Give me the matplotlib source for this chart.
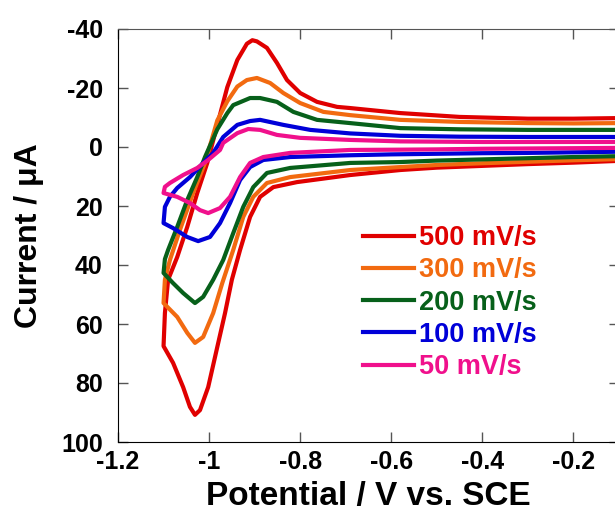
import matplotlib
matplotlib.use("Agg")
import matplotlib.pyplot as plt
import numpy as np

plt.rcParams["font.family"] = ["Liberation Sans", "DejaVu Sans"]
plt.rcParams["font.weight"] = "bold"
plt.rcParams["axes.unicode_minus"] = False

# cathodic (forward) branch then anodic (reverse) branch, potentials in V vs SCE, current in uA
labels = ["500 mV/s", "300 mV/s", "200 mV/s", "100 mV/s", "50 mV/s"]
colors = ["#e00000", "#f26a10", "#07601a", "#0000d8", "#f0108c"]

E_500 = [-0.10, -0.20, -0.30, -0.40, -0.50, -0.58, -0.69, -0.807, -0.859, -0.888, -0.91, -0.932,
         -0.95, -0.965, -0.982, -1.002, -1.02, -1.031, -1.042, -1.057, -1.079, -1.10,
         -1.097, -1.09, -1.07, -1.048, -1.026, -1.004, -0.982, -0.96, -0.938, -0.917, -0.905,
         -0.895, -0.873, -0.851, -0.829, -0.80, -0.763, -0.719, -0.69, -0.58, -0.45, -0.30,
         -0.20, -0.10]
I_500 = [4.7, 5.3, 5.8, 6.4, 7.0, 7.8, 9.5, 11.9, 13.6, 16.9, 23.7, 34.9,
         45, 56.3, 67.8, 81.4, 89.2, 90.8, 88.1, 81.4, 73.2, 67.5,
         56.3, 45, 37.3, 27.1, 15.6, 5.4, -7.5, -20.3, -29.5, -35.0, -36.2,
         -35.8, -33.6, -28.5, -22.7, -18.3, -15.3, -13.6, -13.2, -11.5, -10.2, -9.6,
         -9.6, -9.8]

E_300 = [-0.10, -0.20, -0.30, -0.40, -0.50, -0.58, -0.69, -0.822, -0.873, -0.903, -0.925, -0.947,
         -0.971, -0.991, -1.013, -1.031, -1.048, -1.07, -1.10,
         -1.097, -1.086, -1.064, -1.035, -1.009, -0.982, -0.96, -0.938, -0.917, -0.895, -0.866,
         -0.837, -0.80, -0.749, -0.69, -0.58, -0.45, -0.30, -0.20, -0.10]
I_300 = [4.1, 4.5, 5.0, 5.5, 6.1, 6.8, 7.8, 10.2, 12.2, 16.9, 23.7, 34.9,
         46.1, 56.3, 64.4, 66.4, 63, 57.6, 52.9,
         45, 38.3, 28.1, 15.6, 5.4, -9, -15.5, -20.5, -22.7, -23.4, -21.7,
         -18.3, -14.9, -11.9, -10.8, -9.2, -8.5, -8.1, -8.0, -8.1]

E_200 = [-0.10, -0.20, -0.30, -0.40, -0.50, -0.58, -0.69, -0.822, -0.873, -0.903, -0.925, -0.947,
         -0.969, -0.991, -1.013, -1.031, -1.057, -1.08, -1.10,
         -1.097, -1.09, -1.07, -1.048, -1.026, -1.009, -0.982, -0.96, -0.947, -0.91, -0.888,
         -0.851, -0.815, -0.763, -0.69, -0.58, -0.45, -0.30, -0.20, -0.10]
I_200 = [3.1, 3.4, 3.8, 4.2, 4.6, 5.1, 5.4, 7.1, 8.8, 13.6, 20.3, 29.2,
         38.3, 45, 50.8, 52.9, 49.5, 46, 42.7,
         38, 34.9, 27.1, 18, 10.2, 3.4, -6, -11.5, -14.2, -16.6, -16.6,
         -15.3, -11.9, -9.2, -8.1, -6.4, -6.0, -5.8, -5.8, -5.8]

E_100 = [-0.10, -0.20, -0.30, -0.40, -0.50, -0.60, -0.69, -0.822, -0.881, -0.91, -0.932, -0.954,
         -0.976, -0.998, -1.024, -1.048, -1.079, -1.10,
         -1.097, -1.086, -1.07, -1.042, -1.013, -0.991, -0.969, -0.938, -0.91, -0.888, -0.837,
         -0.778, -0.69, -0.58, -0.45, -0.30, -0.20, -0.10]
I_100 = [1.6, 1.8, 2.0, 2.1, 2.3, 2.5, 2.8, 3.4, 4.4, 6.8, 11.2, 19,
         25.8, 30.5, 31.9, 30.5, 27.5, 25.8,
         20.3, 16.9, 13.9, 10.2, 5.4, 2.0, -3.4, -7.5, -8.8, -9.2, -7.5,
         -5.8, -4.6, -3.8, -3.5, -3.4, -3.4, -3.4]

E_50 = [-0.10, -0.20, -0.30, -0.40, -0.50, -0.58, -0.69, -0.822, -0.881, -0.91, -0.932, -0.954,
        -0.976, -1.002, -1.02, -1.042, -1.07, -1.10,
        -1.097, -1.086, -1.057, -1.026, -1.002, -0.976, -0.969, -0.938, -0.914, -0.888, -0.851,
        -0.80, -0.69, -0.58, -0.40, -0.20, -0.10]
I_50 = [0.3, 0.4, 0.5, 0.6, 0.8, 0.9, 1.0, 2.0, 3.4, 5.4, 10.2, 16.9,
        20.7, 22.4, 21.4, 19, 16.9, 15.6,
        13.5, 12.2, 9.5, 7.1, 4.4, 1.0, -1.4, -4.7, -6.1, -5.8, -4.1,
        -3.1, -2.4, -1.9, -1.7, -1.7, -1.7]

potentials = [E_500, E_300, E_200, E_100, E_50]
currents = [I_500, I_300, I_200, I_100, I_50]

fig = plt.figure(figsize=(6.15, 5.13), dpi=100)
ax = fig.add_axes([118 / 615, 71 / 513, 501 / 615, 413 / 513])

for E, I, c, lab in zip(potentials, currents, colors, labels):
    ax.plot(E, I, color=c, lw=3, label=lab, solid_joinstyle="round")

ax.set_xlim(-1.2, -0.1)
ax.set_ylim(100, -40)
ax.set_xticks([-1.2, -1.0, -0.8, -0.6, -0.4, -0.2])
ax.set_xticklabels(["-1.2", "-1", "-0.8", "-0.6", "-0.4", "-0.2"])
ax.set_yticks([-40, -20, 0, 20, 40, 60, 80, 100])
ax.set_yticklabels(["-40", "-20", "0", "20", "40", "60", "80", "100"])
ax.tick_params(direction="in", length=7, width=1, color="#555555",
               top=True, right=True, labelsize=18)
ax.tick_params(axis="x", pad=6)
ax.tick_params(axis="y", pad=11)
for s in ["top", "right"]:
    ax.spines[s].set_color("#555555")
for s in ["left", "bottom"]:
    ax.spines[s].set_color("black")

ax.set_xlabel("Potential / V vs. SCE", fontsize=24, fontweight="bold", labelpad=5)
ax.set_ylabel("Current / μA", fontsize=23, fontweight="bold", labelpad=12)

leg = ax.legend(loc="upper left", bbox_to_anchor=(0.49, 0.525), frameon=False,
                fontsize=19.5, handlelength=1.85, handletextpad=0.2, labelspacing=0.23,
                borderpad=0, borderaxespad=0, labelcolor="linecolor")
for t in leg.get_texts():
    t.set_fontweight("bold")

fig.savefig("out.png", dpi=100)
